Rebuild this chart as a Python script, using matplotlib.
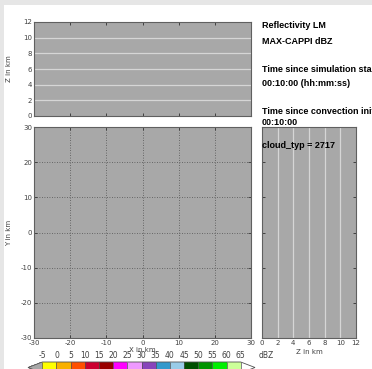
import matplotlib
matplotlib.use("Agg")
import matplotlib.pyplot as plt
import numpy as np
from matplotlib.colors import ListedColormap, BoundaryNorm
from matplotlib.patches import Rectangle
import matplotlib.colorbar as mcolorbar

plt.rcParams['axes.unicode_minus'] = False

# ---- data ----
x_ticks = [-30, -20, -10, 0, 10, 20, 30]
y_ticks = [-30, -20, -10, 0, 10, 20, 30]
z_ticks = [0, 2, 4, 6, 8, 10, 12]
z_levels = [2, 4, 6, 8, 10]
cb_bounds = [-5, 0, 5, 10, 15, 20, 25, 30, 35, 40, 45, 50, 55, 60, 65]
cb_colors = ['#ffff00', '#f8b000', '#ff5000', '#cc0030', '#990000', '#ff00ff',
             '#ee99ff', '#8844bb', '#3399cc', '#99cce8', '#004f00', '#009400',
             '#00f000', '#ccff99']
info_lines = [("Reflectivity LM", 25), ("MAX-CAPPI dBZ", 41),
              ("Time since simulation start", 69), ("00:10:00 (hh:mm:ss)", 83),
              ("Time since convection initiation", 111), ("00:10:00", 123)]
cloud_label = "cloud_typ = 2717"

W, H = 372, 369
fig = plt.figure(figsize=(W / 100, H / 100), dpi=100, facecolor='#e6e6e6')
fig.patches.append(Rectangle((4 / W, 0), 1, 1 - 5 / H, transform=fig.transFigure,
                             facecolor='white', edgecolor='none', zorder=-10))

def fx(px):
    return px / W

def fy(py):
    return 1 - py / H

panel_bg = '#a8a8a8'
tick_col = '#404040'
line_col = '#d6d6d6'
bold_size = 6.5

def style(ax):
    ax.set_facecolor(panel_bg)
    for s in ax.spines.values():
        s.set_color('#606060')
        s.set_linewidth(0.8)
    ax.tick_params(direction='in', length=2.5, width=0.6, color='#303030',
                   labelsize=5, labelcolor=tick_col, pad=1.2,
                   top=True, right=True)

# top panel (x-z)
ax_top = fig.add_axes([fx(34), fy(116), fx(251) - fx(34), fy(22) - fy(116)])
style(ax_top)
ax_top.set_xlim(-30, 30)
ax_top.set_ylim(0, 12)
ax_top.set_xticks(x_ticks[1:-1])
ax_top.set_xticklabels([])
ax_top.set_yticks(z_ticks)
for z in z_levels:
    ax_top.axhline(z, color=line_col, lw=0.9)
ax_top.set_ylabel("Z in km", fontsize=5, color=tick_col)
ax_top.yaxis.set_label_coords((12 - 34) / 217, 0.5)

# main panel (x-y)
ax_main = fig.add_axes([fx(34), fy(338), fx(251) - fx(34), fy(127) - fy(338)])
style(ax_main)
ax_main.set_xlim(-30, 30)
ax_main.set_ylim(-30, 30)
ax_main.set_xticks(x_ticks)
ax_main.set_yticks(y_ticks)
for v in x_ticks[1:-1]:
    ax_main.axvline(v, color='#505050', lw=0.6, ls=(0, (1, 2)))
for v in y_ticks[1:-1]:
    ax_main.axhline(v, color='#505050', lw=0.6, ls=(0, (1, 2)))
ax_main.set_xlabel("X in km", fontsize=5, color=tick_col, va='center')
ax_main.xaxis.set_label_coords(0.5, (338 - 350) / 211)
ax_main.set_ylabel("Y in km", fontsize=5, color=tick_col)
ax_main.yaxis.set_label_coords((12 - 34) / 217, 0.5)

# right panel (z-y)
ax_r = fig.add_axes([fx(262), fy(338), fx(356) - fx(262), fy(127) - fy(338)])
style(ax_r)
ax_r.set_xlim(0, 12)
ax_r.set_ylim(-30, 30)
ax_r.set_xticks(z_ticks)
ax_r.set_yticks(y_ticks[1:-1])
ax_r.set_yticklabels([])
for z in z_levels:
    ax_r.axvline(z, color=line_col, lw=0.9)
ax_r.set_xlabel("Z in km", fontsize=5, color=tick_col, va='center')
ax_r.xaxis.set_label_coords(0.5, (338 - 352) / 211)
ax_r.text(0.0, (338 - 145) / 211, cloud_label, transform=ax_r.transAxes,
          fontsize=bold_size, fontweight='bold', family='Liberation Sans',
          va='center', ha='left')

# info text
for txt, py in info_lines:
    fig.text(fx(262), fy(py), txt, fontsize=bold_size, fontweight='bold',
             family='Liberation Sans', va='center', ha='left')

# colorbar
cmap = ListedColormap(cb_colors)
cmap.set_under('#a8a8a8')
cmap.set_over('white')
norm = BoundaryNorm(cb_bounds, cmap.N)
ax_cb = fig.add_axes([fx(28), fy(373), fx(255) - fx(28), fy(362) - fy(373)])
cb = mcolorbar.ColorbarBase(ax_cb, cmap=cmap, norm=norm, orientation='horizontal',
                            extend='both', extendfrac=0.072, ticks=cb_bounds,
                            drawedges=True)
cb.outline.set_color('#505050')
cb.outline.set_linewidth(0.6)
cb.dividers.set_color('#505050')
cb.dividers.set_linewidth(0.5)
ax_cb.xaxis.set_ticks_position('top')
ax_cb.tick_params(axis='x', length=0, labelsize=5.5, labelcolor=tick_col, pad=1.2)
fig.text(fx(259), fy(355.5), "dBZ", fontsize=5.5, color=tick_col, va='center', ha='left')

fig.savefig("out.png", dpi=100, facecolor=fig.get_facecolor())
